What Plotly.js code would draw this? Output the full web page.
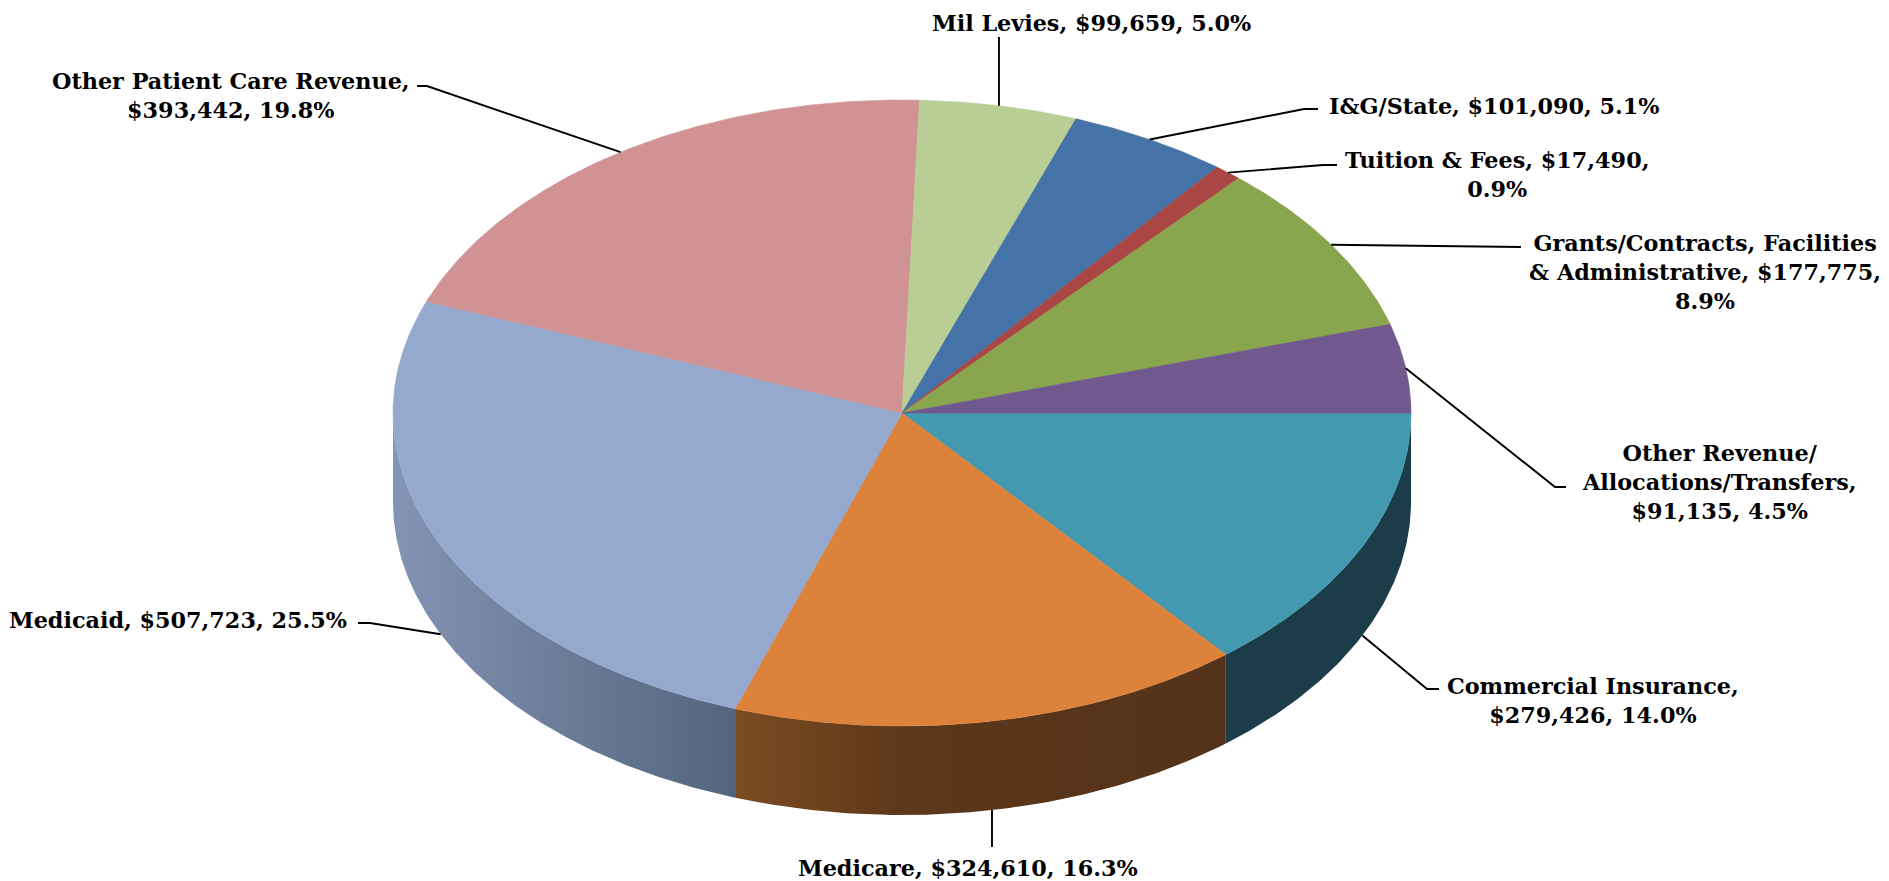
<!DOCTYPE html>
<html>
<head>
<meta charset="utf-8">
<script src="https://cdn.plot.ly/plotly-3.0.1.min.js"></script>
<style>html,body{margin:0;padding:0;background:#fff;overflow:hidden}#chart{width:1889px;height:881px}</style>
</head>
<body>
<div id="chart"></div>
<script>
// Data (clockwise from the 3 o'clock position)
const categories = ["Commercial Insurance","Medicare","Medicaid","Other Patient Care Revenue","Mil Levies","I&G/State","Tuition & Fees","Grants/Contracts, Facilities & Administrative","Other Revenue/ Allocations/Transfers"];
const values = [279426,324610,507723,393442,99659,101090,17490,177775,91135];
const percents = ["14.0","16.3","25.5","19.8","5.0","5.1","0.9","8.9","4.5"];
const labelTexts = [
 "Commercial Insurance,<br>$279,426, 14.0%",
 "Medicare, $324,610, 16.3%",
 "Medicaid, $507,723, 25.5%",
 "Other Patient Care Revenue,<br>$393,442, 19.8%",
 "Mil Levies, $99,659, 5.0%",
 "I&G/State, $101,090, 5.1%",
 "Tuition & Fees, $17,490,<br>0.9%",
 "Grants/Contracts, Facilities<br>& Administrative, $177,775,<br>8.9%",
 "Other Revenue/<br>Allocations/Transfers,<br>$91,135, 4.5%"
];

// Styles
const topColors = ["#4299B0","#DD823B","#95A9CF","#D09292","#B9CE95","#4573A7","#AA4644","#89A54E","#71588F"];
const wallScales = {
  0:[[0,"#1B3C48"],[1,"#1B3C48"]],
  1:[[0,"#7C4B22"],[0.35,"#5C3719"],[1,"#54331A"]],
  2:[[0,"#8394B4"],[1,"#53647E"]]
};
// Geometry of the disc (pixel-mapped axes)
const cx=902, cy=413, rx=509, ry=313, depth=89;
// Label placement: centre of text block, leader path after the anchor on the rim
const labelPos = [[1593,700],[968,868],[178,620],[231,95],[1091,23],[1494,106],[1497,174],[1705,272],[1719,482]];
const leaderBends = [
 [[1427,689],[1439,689]],
 [[null,847]],
 [[370,623],[358,623]],
 [[427,86],[417,86]],
 [[null,37]],
 [[1304,109],[1318,109]],
 [[1323,165],[1337,165]],
 [[1521,247]],
 [[1555,487],[1566,487]]
];

const total = values.reduce((a,b)=>a+b,0);
const rad = d=>d*Math.PI/180;
const px = a=>cx+rx*Math.cos(rad(a));
const py = (a,dz=0)=>cy+ry*Math.sin(rad(a))+dz;
function arc(a0,a1,dz){
  const n=Math.max(2,Math.ceil(Math.abs(a1-a0)*2)), xs=[], ys=[];
  for(let i=0;i<=n;i++){const a=a0+(a1-a0)*i/n; xs.push(px(a)); ys.push(py(a,dz));}
  return [xs,ys];
}
let start=0;
const angles = values.map(v=>{const s=start; start+=v/total*360; return [s,start];});

const walls=[], tops=[], leaders=[];
angles.forEach(([a0,a1],i)=>{
  const w0=Math.max(a0,0), w1=Math.min(a1,180);
  if(w1>w0){
    const [tx,ty]=arc(w0,w1,0), [bx,by]=arc(w1,w0,depth);
    walls.push({type:"scatter",x:tx.concat(bx),y:ty.concat(by),mode:"lines",line:{width:0},fill:"toself",
      fillgradient:{type:"horizontal",colorscale:wallScales[i]},name:categories[i],hoverinfo:"name"});
  }
  const [ax,ay]=arc(a0,a1,0);
  tops.push({type:"scatter",x:[cx].concat(ax,[cx]),y:[cy].concat(ay,[cy]),mode:"lines",
    line:{width:0.6,color:topColors[i]},fill:"toself",fillcolor:topColors[i],
    name:categories[i],text:"$"+values[i].toLocaleString("en-US")+", "+percents[i]+"%",hoverinfo:"name+text"});
  const mid=(a0+a1)/2, onWall=mid<180, sx=px(mid), sy=py(mid,onWall?depth:0);
  const lx=[sx], ly=[sy];
  leaderBends[i].forEach(p=>{lx.push(p[0]===null?sx:p[0]); ly.push(p[1]);});
  leaders.push({type:"scatter",x:lx,y:ly,mode:"lines",line:{color:"#000",width:1.9},hoverinfo:"skip"});
});

const annotations = labelTexts.map((t,i)=>({
  x:labelPos[i][0],y:labelPos[i][1],xref:"x",yref:"y",text:t,showarrow:false,align:"center",
  xanchor:"center",yanchor:"middle",
  font:{family:"'DejaVu Serif', serif",size:22.3,color:"#000",weight:700}
}));

Plotly.newPlot("chart",walls.concat(tops,leaders),{
  width:1889,height:881,margin:{l:0,r:0,t:0,b:0},showlegend:false,
  paper_bgcolor:"#fff",plot_bgcolor:"#fff",
  xaxis:{range:[0,1889],visible:false,fixedrange:true},
  yaxis:{range:[881,0],visible:false,fixedrange:true},
  annotations
},{displayModeBar:false,responsive:false});
</script>
</body>
</html>
